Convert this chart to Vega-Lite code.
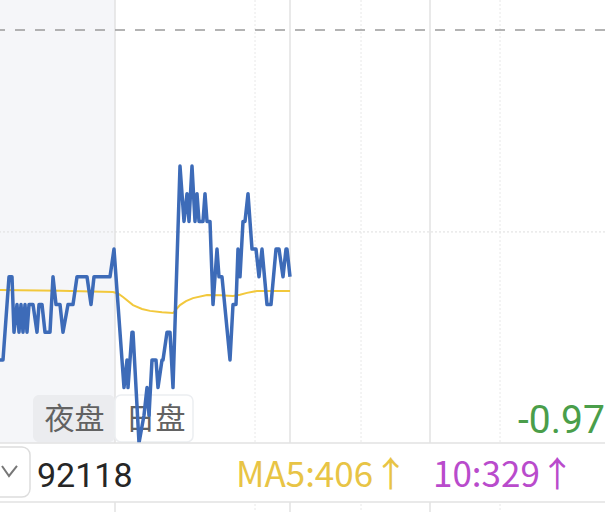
{
  "$schema": "https://vega.github.io/schema/vega-lite/v6.json",
  "width": 605,
  "height": 512,
  "autosize": "none",
  "padding": 0,
  "background": "white",
  "config": {"view": {"stroke": null}},
  "datasets": {
    "price": [
      {"t":0,"v":3},{"t":3,"v":3},{"t":9,"v":6},{"t":12,"v":6},{"t":14,"v":4},{"t":17,"v":5},{"t":19,"v":4},{"t":21,"v":5},{"t":23,"v":4},{"t":25,"v":5},{"t":27,"v":4},{"t":29,"v":5},{"t":33,"v":5},{"t":37,"v":4},{"t":39,"v":5},{"t":42,"v":5},{"t":45,"v":4},{"t":50,"v":4},{"t":53,"v":6},{"t":56,"v":5},{"t":60,"v":5},{"t":63,"v":4},{"t":68,"v":5},{"t":73,"v":5},{"t":77,"v":6},{"t":87,"v":6},{"t":91,"v":5},{"t":94,"v":6},{"t":110,"v":6},{"t":114,"v":7},{"t":124,"v":2},{"t":127,"v":3},{"t":128,"v":2},{"t":132,"v":4},{"t":133,"v":4},{"t":139,"v":0},{"t":144,"v":1},{"t":147,"v":2},{"t":149,"v":1},{"t":152,"v":3},{"t":156,"v":3},{"t":158,"v":2},{"t":162,"v":3},{"t":163,"v":3},{"t":167,"v":4},{"t":170,"v":4},{"t":173,"v":2},{"t":180,"v":10},{"t":184,"v":8},{"t":187,"v":9},{"t":189,"v":8},{"t":192,"v":10},{"t":195,"v":8},{"t":197,"v":9},{"t":199,"v":8},{"t":203,"v":8},{"t":205,"v":9},{"t":207,"v":8},{"t":210,"v":8},{"t":213,"v":5},{"t":217,"v":7},{"t":219,"v":6},{"t":222,"v":6},{"t":230,"v":3},{"t":233,"v":5},{"t":236,"v":5},{"t":238,"v":7},{"t":240,"v":6},{"t":243,"v":8},{"t":245,"v":8},{"t":248,"v":9},{"t":252,"v":7},{"t":256,"v":7},{"t":259,"v":6},{"t":262,"v":7},{"t":267,"v":5},{"t":271,"v":5},{"t":276,"v":7},{"t":279,"v":7},{"t":283,"v":6},{"t":286,"v":7},{"t":287,"v":7},{"t":290,"v":6}
    ],
    "ma": [
      {"t":0,"v":5.52},{"t":60,"v":5.5},{"t":113,"v":5.45},{"t":118,"v":5.4},{"t":123,"v":5.27},{"t":133,"v":4.98},{"t":142,"v":4.84},{"t":150,"v":4.77},{"t":162,"v":4.72},{"t":173,"v":4.69},{"t":180,"v":4.98},{"t":186,"v":5.12},{"t":193,"v":5.23},{"t":207,"v":5.34},{"t":220,"v":5.33},{"t":233,"v":5.31},{"t":240,"v":5.35},{"t":247,"v":5.42},{"t":257,"v":5.49},{"t":290,"v":5.49}
    ],
    "chev": [{"t":2,"v":-0.83},{"t":9,"v":-1.19},{"t":17,"v":-0.83}]
  },
  "layer": [
    {
      "data": {"values": [{"t":0,"t2":115,"v":0,"v2":15.993}]},
      "mark": {"type": "rect", "color": "#f5f6f9"},
      "encoding": {
        "x": {"field": "t", "type": "quantitative", "scale": {"domain": [0, 605], "nice": false, "zero": false}, "axis": null},
        "x2": {"field": "t2"},
        "y": {"field": "v", "type": "quantitative", "scale": {"domain": [-2.491, 15.993], "nice": false, "zero": false}, "axis": null},
        "y2": {"field": "v2"}
      }
    },
    {
      "data": {"values": [{"t":255},{"t":361},{"t":500}]},
      "mark": {"type": "rule", "color": "#e8e8e8", "strokeWidth": 1, "strokeDash": [2, 2]},
      "encoding": {"x": {"field": "t", "type": "quantitative"}}
    },
    {
      "data": {"values": [{"t":115},{"t":290},{"t":430}]},
      "mark": {"type": "rule", "color": "#e2e2e2", "strokeWidth": 1.5},
      "encoding": {"x": {"field": "t", "type": "quantitative"}}
    },
    {
      "data": {"values": [{"v":7.62}]},
      "mark": {"type": "rule", "color": "#dedede", "strokeWidth": 1, "strokeDash": [2, 2]},
      "encoding": {"y": {"field": "v", "type": "quantitative"}}
    },
    {
      "data": {"values": [{"v":14.91}]},
      "mark": {"type": "rule", "color": "#9a9a9a", "strokeWidth": 1.5, "strokeDash": [10, 10]},
      "encoding": {"y": {"field": "v", "type": "quantitative"}}
    },
    {
      "data": {"values": [{"t":33,"t2":115,"v":0.04,"v2":1.73}]},
      "mark": {"type": "rect", "color": "#ebecef", "cornerRadius": 6},
      "encoding": {
        "x": {"field": "t", "type": "quantitative"}, "x2": {"field": "t2"},
        "y": {"field": "v", "type": "quantitative"}, "y2": {"field": "v2"}
      }
    },
    {
      "data": {"values": [{"t":115,"t2":193,"v":0.04,"v2":1.73}]},
      "mark": {"type": "rect", "fill": "#ffffff", "stroke": "#eceef1", "strokeWidth": 1.5, "cornerRadius": 6},
      "encoding": {
        "x": {"field": "t", "type": "quantitative"}, "x2": {"field": "t2"},
        "y": {"field": "v", "type": "quantitative"}, "y2": {"field": "v2"}
      }
    },
    {
      "data": {"values": [{"t":74.5,"v":0.83,"label":"夜盘"},{"t":155.5,"v":0.83,"label":"日盘"}]},
      "mark": {"type": "text", "font": "Noto Sans CJK SC", "fontSize": 30, "color": "#626262", "align": "center", "baseline": "middle"},
      "encoding": {
        "x": {"field": "t", "type": "quantitative"},
        "y": {"field": "v", "type": "quantitative"},
        "text": {"field": "label"}
      }
    },
    {
      "data": {"name": "ma"},
      "mark": {"type": "line", "color": "#f2c83c", "strokeWidth": 2},
      "encoding": {
        "x": {"field": "t", "type": "quantitative"},
        "y": {"field": "v", "type": "quantitative"}
      }
    },
    {
      "data": {"name": "price"},
      "mark": {"type": "line", "color": "#3d6bb8", "strokeWidth": 3.5, "strokeJoin": "round"},
      "encoding": {
        "x": {"field": "t", "type": "quantitative"},
        "y": {"field": "v", "type": "quantitative"}
      }
    },
    {
      "data": {"values": [{"t":0,"t2":605,"v":0,"v2":-2.13}]},
      "mark": {"type": "rect", "color": "#ffffff"},
      "encoding": {
        "x": {"field": "t", "type": "quantitative"}, "x2": {"field": "t2"},
        "y": {"field": "v", "type": "quantitative"}, "y2": {"field": "v2"}
      }
    },
    {
      "data": {"values": [{"v":0},{"v":-2.13}]},
      "mark": {"type": "rule", "color": "#e2e2e2", "strokeWidth": 1.5},
      "encoding": {"y": {"field": "v", "type": "quantitative"}}
    },
    {
      "data": {"values": [{"t":-12,"t2":30,"v":-0.14,"v2":-1.95}]},
      "mark": {"type": "rect", "fill": "#ffffff", "stroke": "#dddddd", "strokeWidth": 1.5, "cornerRadius": 8},
      "encoding": {
        "x": {"field": "t", "type": "quantitative"}, "x2": {"field": "t2"},
        "y": {"field": "v", "type": "quantitative"}, "y2": {"field": "v2"}
      }
    },
    {
      "data": {"name": "chev"},
      "mark": {"type": "line", "color": "#777777", "strokeWidth": 2},
      "encoding": {
        "x": {"field": "t", "type": "quantitative"},
        "y": {"field": "v", "type": "quantitative"}
      }
    },
    {
      "data": {"values": [{"t":37,"v":-1.588,"label":"92118"}]},
      "mark": {"type": "text", "font": "Roboto", "fontSize": 34, "color": "#262626", "align": "left", "baseline": "alphabetic"},
      "encoding": {
        "x": {"field": "t", "type": "quantitative"},
        "y": {"field": "v", "type": "quantitative"},
        "text": {"field": "label"}
      }
    },
    {
      "data": {"values": [{"t":236,"v":-1.588,"label":"MA5:406↑"}]},
      "mark": {"type": "text", "font": "Noto Sans CJK SC", "fontSize": 35, "color": "#e8c445", "align": "left", "baseline": "alphabetic"},
      "encoding": {
        "x": {"field": "t", "type": "quantitative"},
        "y": {"field": "v", "type": "quantitative"},
        "text": {"field": "label"}
      }
    },
    {
      "data": {"values": [{"t":433,"v":-1.588,"label":"10:329↑"}]},
      "mark": {"type": "text", "font": "Noto Sans CJK SC", "fontSize": 35, "color": "#b94bcc", "align": "left", "baseline": "alphabetic"},
      "encoding": {
        "x": {"field": "t", "type": "quantitative"},
        "y": {"field": "v", "type": "quantitative"},
        "text": {"field": "label"}
      }
    },
    {
      "data": {"values": [{"t":518,"v":0.36,"label":"-0.97"}]},
      "mark": {"type": "text", "font": "Roboto", "fontSize": 39, "color": "#4a9e4a", "align": "left", "baseline": "alphabetic"},
      "encoding": {
        "x": {"field": "t", "type": "quantitative"},
        "y": {"field": "v", "type": "quantitative"},
        "text": {"field": "label"}
      }
    }
  ]
}
